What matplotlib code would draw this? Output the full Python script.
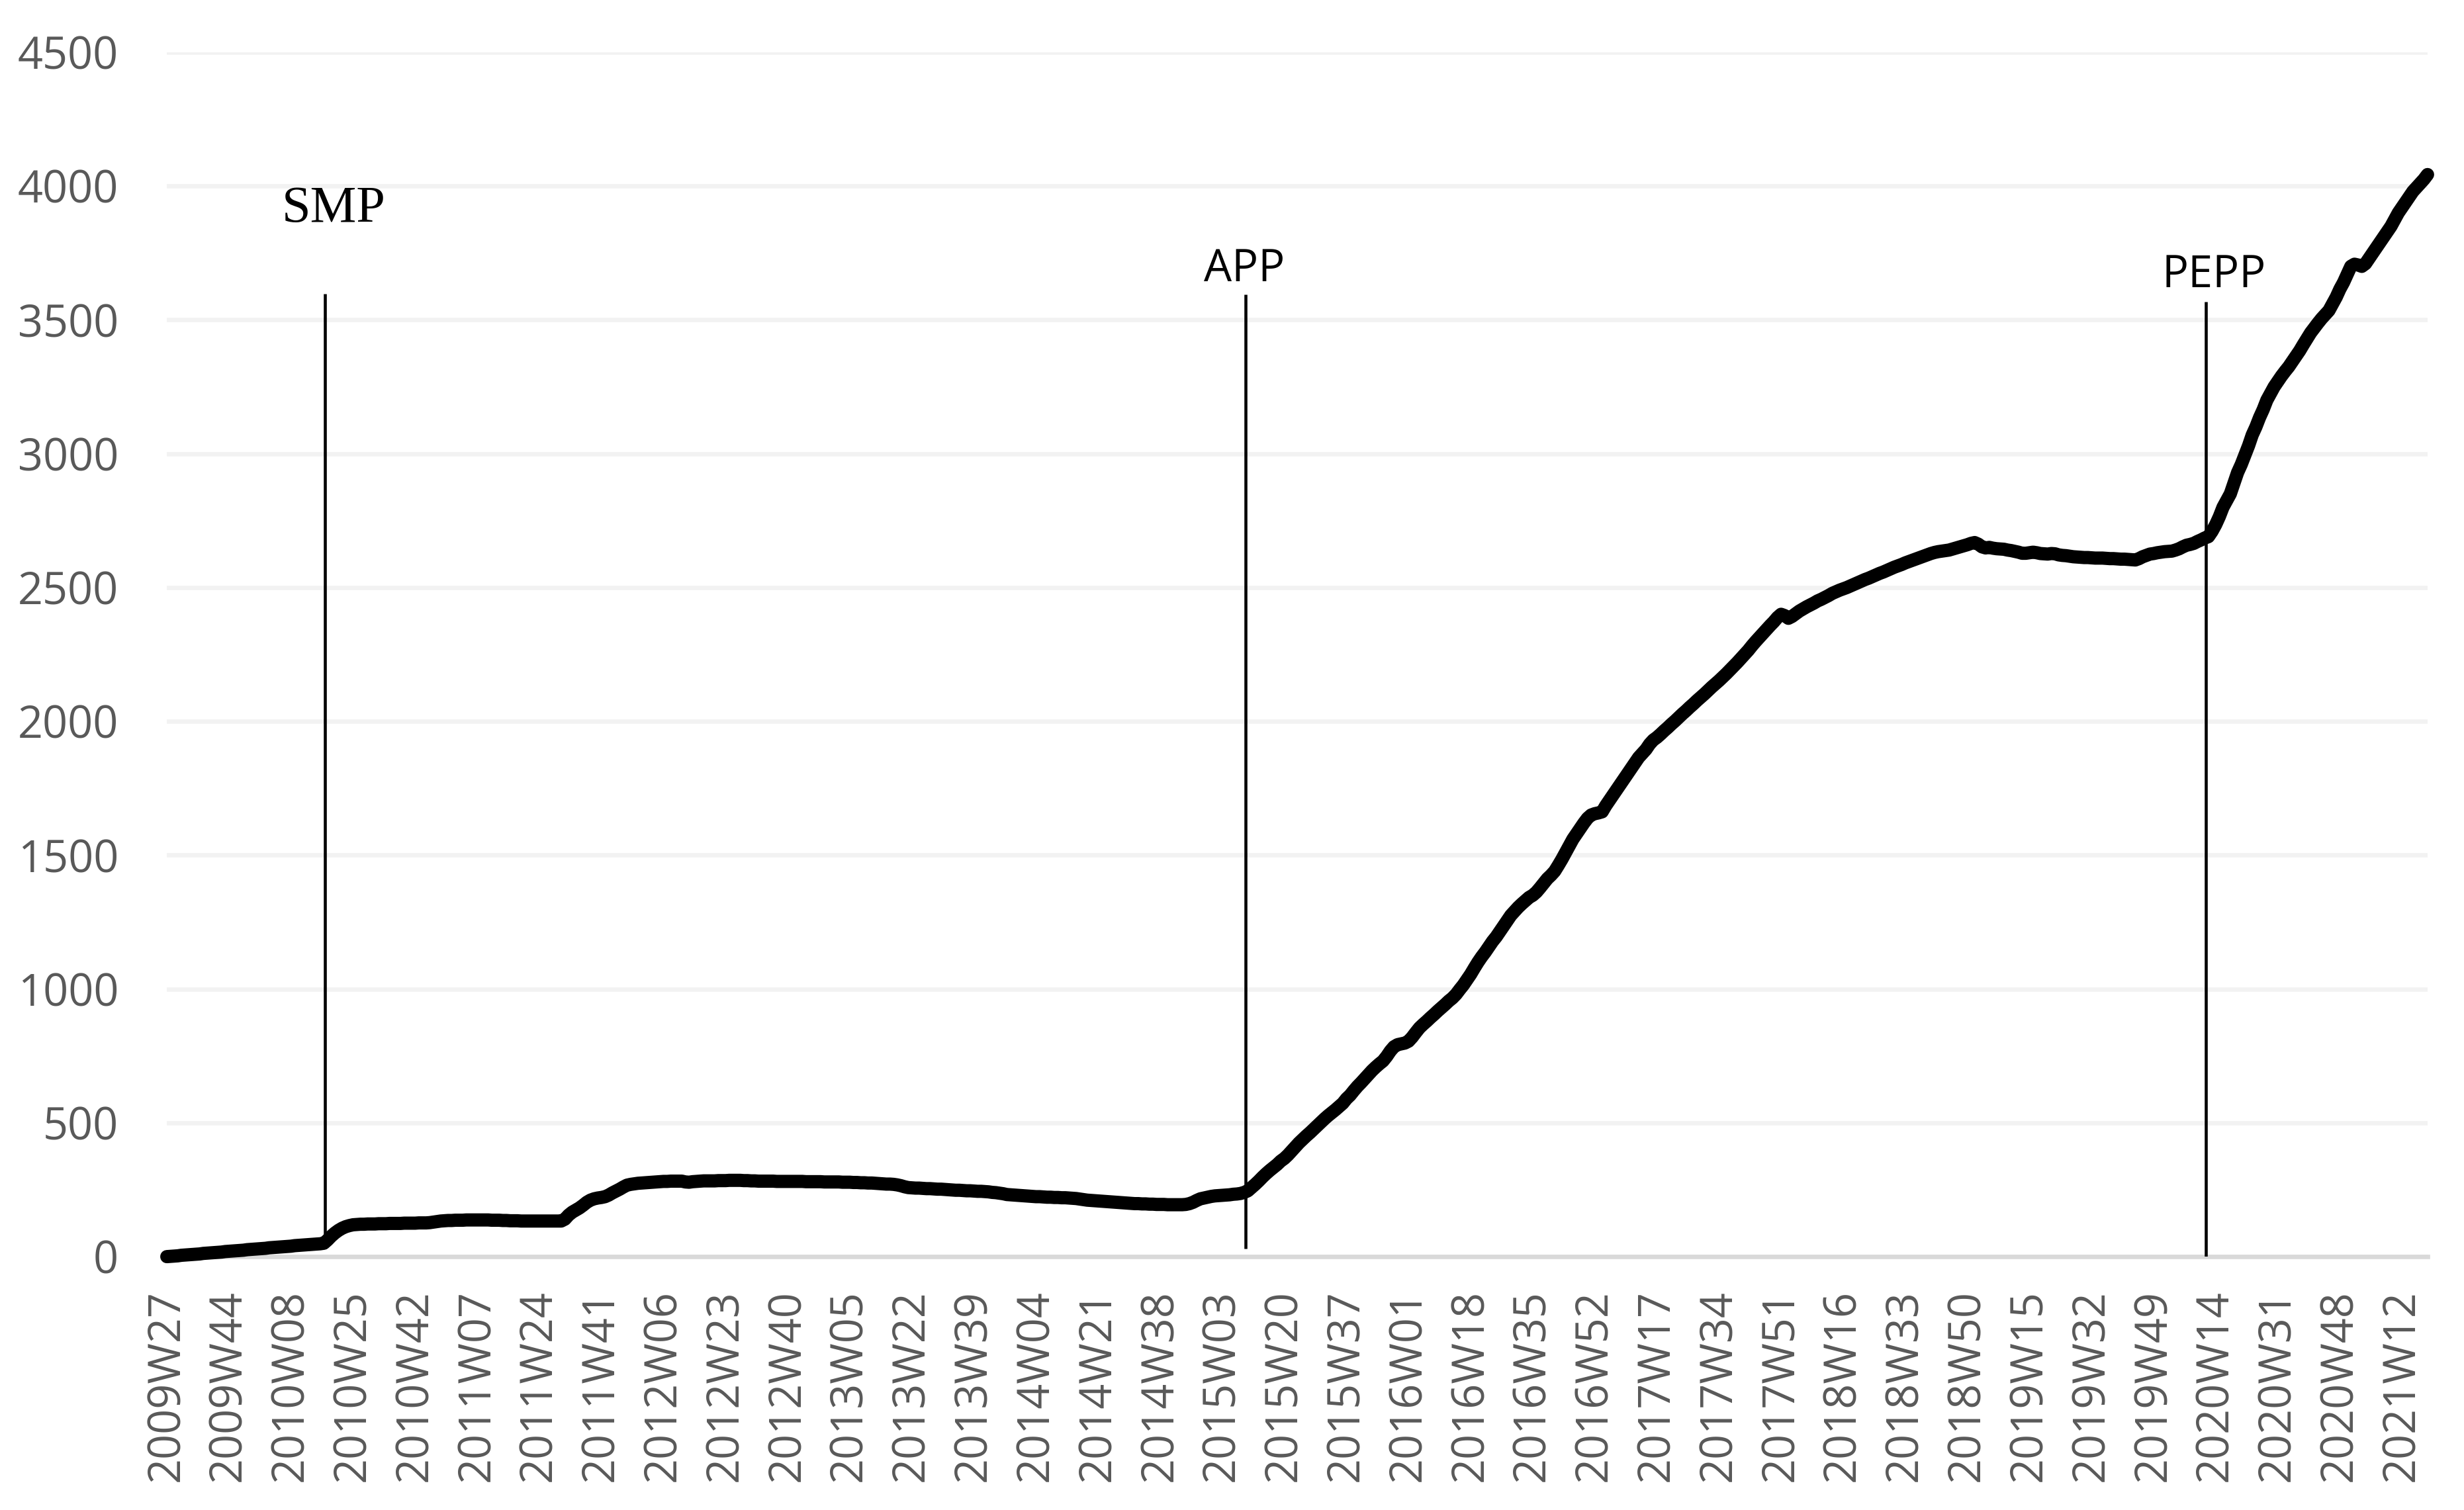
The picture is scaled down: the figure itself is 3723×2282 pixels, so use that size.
import matplotlib
matplotlib.use("Agg")
import matplotlib.pyplot as plt

# weekly holdings (EUR bn), one row per 17-week tick interval, starting 2009W27
holdings = [
    0, 1, 2, 3, 5, 6, 7, 8, 9, 10, 12, 13, 14, 15, 16, 17, 19,
    20, 21, 22, 23, 24, 26, 27, 28, 29, 30, 31, 33, 34, 35, 36, 37, 38,
    39, 41, 42, 43, 44, 45, 46, 47, 48, 50, 62, 76, 88, 98, 106, 112, 116,
    119, 120, 121, 121, 122, 122, 122, 123, 123, 123, 124, 124, 124, 124, 125, 125, 125,
    125, 126, 126, 126, 127, 129, 131, 133, 134, 135, 135, 136, 136, 136, 137, 137, 137,
    137, 137, 137, 137, 136, 136, 136, 135, 135, 134, 134, 134, 133, 133, 133, 133, 133,
    133, 133, 133, 133, 133, 133, 133, 140, 155, 166, 174, 182, 192, 203, 211, 216, 219,
    221, 224, 230, 238, 245, 252, 260, 267, 270, 272, 274, 275, 276, 277, 278, 279, 280,
    281, 281, 282, 282, 282, 282, 279, 278, 280, 281, 282, 283, 283, 283, 283, 284, 284,
    284, 285, 285, 285, 285, 284, 284, 283, 283, 282, 282, 282, 282, 282, 281, 281, 281,
    281, 281, 281, 281, 281, 280, 280, 280, 280, 280, 279, 279, 279, 279, 279, 278, 278,
    278, 277, 277, 276, 276, 275, 275, 274, 273, 272, 271, 271, 270, 268, 265, 261, 258,
    257, 256, 256, 255, 254, 254, 253, 252, 252, 251, 250, 249, 248, 248, 247, 246, 246,
    245, 244, 244, 243, 242, 240, 239, 237, 235, 232, 231, 230, 229, 228, 227, 226, 225,
    224, 224, 223, 222, 222, 221, 221, 220, 220, 219, 218, 217, 215, 213, 211, 210, 209,
    208, 207, 206, 205, 204, 203, 202, 201, 200, 199, 198, 198, 197, 197, 196, 196, 195,
    195, 195, 194, 194, 194, 194, 194, 195, 198, 203, 210, 216, 219, 222, 225, 227, 228,
    229, 230, 231, 233, 234, 236, 240, 246, 258, 270, 283, 297, 310, 322, 333, 344, 357,
    367, 380, 395, 410, 425, 438, 451, 463, 476, 489, 502, 515, 527, 538, 549, 561, 573,
    590, 603, 620, 636, 650, 665, 680, 695, 708, 720, 731, 748, 768, 784, 792, 795, 798,
    805, 820, 838, 855, 868, 880, 893, 905, 918, 930, 942, 955, 966, 980, 998, 1015, 1035,
    1055, 1078, 1100, 1120, 1138, 1158, 1178, 1195, 1215, 1235, 1255, 1275, 1290, 1305, 1318, 1330, 1342,
    1350, 1362, 1378, 1395, 1412, 1425, 1440, 1462, 1485, 1510, 1535, 1560, 1580, 1600, 1620, 1638, 1650,
    1655, 1658, 1662, 1685, 1705, 1725, 1745, 1765, 1785, 1805, 1825, 1845, 1865, 1880, 1895, 1915, 1930,
    1940, 1952, 1965, 1977, 1990, 2002, 2015, 2028, 2040, 2053, 2065, 2078, 2090, 2102, 2115, 2128, 2140,
    2152, 2165, 2178, 2192, 2206, 2220, 2235, 2250, 2265, 2282, 2298, 2313, 2328, 2343, 2358, 2372, 2388,
    2400, 2395, 2385, 2392, 2402, 2412, 2420, 2428, 2435, 2442, 2450, 2456, 2463, 2470, 2478, 2484, 2490,
    2495, 2500, 2506, 2512, 2518, 2524, 2530, 2535, 2541, 2547, 2553, 2558, 2564, 2570, 2576, 2581, 2586,
    2592, 2597, 2602, 2607, 2612, 2617, 2622, 2627, 2631, 2634, 2636, 2638, 2640, 2644, 2648, 2652, 2656,
    2660, 2665, 2668, 2662, 2652, 2648, 2650, 2647, 2645, 2644, 2643, 2640, 2638, 2635, 2632, 2628, 2628,
    2630, 2632, 2630, 2627, 2626, 2625, 2627, 2626, 2622, 2620, 2619, 2617, 2615, 2614, 2613, 2612, 2612,
    2611, 2610, 2610, 2610, 2609, 2608, 2608, 2607, 2606, 2606, 2605, 2604, 2603, 2608, 2615, 2620, 2625,
    2627, 2630, 2632, 2634, 2635, 2636, 2640, 2645, 2652, 2658, 2661, 2665, 2672, 2678, 2685, 2690, 2710,
    2735, 2765, 2800, 2825, 2850, 2890, 2930, 2960, 2995, 3030, 3070, 3100, 3135, 3165, 3200, 3225, 3250,
    3270, 3290, 3308, 3325, 3345, 3365, 3385, 3408, 3430, 3452, 3470, 3488, 3505, 3520, 3535, 3560, 3585,
    3615, 3640, 3670, 3700, 3708, 3705, 3700, 3710, 3730, 3750, 3770, 3790, 3810, 3830, 3850, 3875, 3900,
    3920, 3940, 3960, 3980, 3995, 4010, 4025, 4043,
]

week_labels = [
    "2009W27", "2009W44", "2010W08", "2010W25", "2010W42", "2011W07", "2011W24",
    "2011W41", "2012W06", "2012W23", "2012W40", "2013W05", "2013W22", "2013W39",
    "2014W04", "2014W21", "2014W38", "2015W03", "2015W20", "2015W37", "2016W01",
    "2016W18", "2016W35", "2016W52", "2017W17", "2017W34", "2017W51", "2018W16",
    "2018W33", "2018W50", "2019W15", "2019W32", "2019W49", "2020W14", "2020W31",
    "2020W48", "2021W12",
]
label_step = 17

# programme start markers (weeks since 2009W27)
programmes = ["SMP", "APP", "PEPP"]
programme_week = [43.3, 295.4, 558.4]

grey = "#595959"

fig = plt.figure(figsize=(3723 / 300, 2282 / 300), dpi=300)
ax = fig.add_axes([0.0677, 0.1678, 0.9175, 0.7976])

ax.plot(range(len(holdings)), holdings, color="black", lw=4.8,
        solid_capstyle="round", solid_joinstyle="round", zorder=4, clip_on=False)

ax.set_xlim(0, len(holdings) - 1)
ax.set_ylim(0, 4500)
ax.set_yticks(range(0, 4501, 500))
ax.set_xticks(range(0, label_step * len(week_labels), label_step))
ax.set_xticklabels(week_labels, rotation=90)

ax.yaxis.grid(True, color="#f2f2f2", lw=1.6)
ax.set_axisbelow(True)
for s in ax.spines.values():
    s.set_visible(False)
ax.axhline(0, color="#d9d9d9", lw=1.6, zorder=2, clip_on=False)

for lab in ax.get_xticklabels() + ax.get_yticklabels():
    lab.set_fontfamily("Open Sans")
ax.tick_params(axis="both", length=0, labelsize=16, labelcolor=grey)
ax.tick_params(axis="y", pad=17.5)
ax.tick_params(axis="x", pad=12)

# vertical markers and their labels
ax.vlines(programme_week[0], 59, 3598, color="black", lw=1.1, zorder=3)
ax.vlines(programme_week[1], 30, 3595, color="black", lw=1.1, zorder=3)
ax.vlines(programme_week[2], 0, 3568, color="black", lw=1.1, zorder=3)

ax.text(programme_week[0] + 2.4, 3867, programmes[0], ha="center", va="baseline",
        fontfamily="Liberation Serif", fontsize=18.8, color="black")
ax.text(programme_week[1] - 0.3, 3645, programmes[1], ha="center", va="baseline",
        fontfamily="Open Sans", fontsize=16, color="black")
ax.text(programme_week[2] + 2.2, 3621, programmes[2], ha="center", va="baseline",
        fontfamily="Open Sans", fontsize=16, color="black")

fig.savefig("out.png", dpi=300)
